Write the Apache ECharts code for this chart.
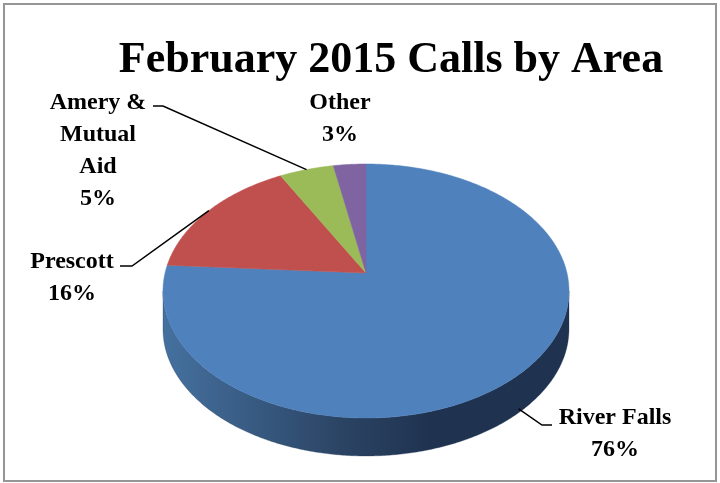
<!DOCTYPE html>
<html>
<head>
<meta charset="utf-8">
<script src="https://cdn.jsdelivr.net/npm/echarts@6/dist/echarts.min.js"></script>
<style>
  html, body { margin: 0; padding: 0; background: #fff; }
  #chart { width: 720px; height: 483px; }
</style>
</head>
<body>
<div id="chart"></div>
<script>
var categories = ['River Falls', 'Prescott', 'Amery &\nMutual\nAid', 'Other'];
var shares = [76, 16, 5, 3];

var sliceColors = ['#4f81bd', '#c0504d', '#9bbb59', '#8064a2'];
var sideColors = [
  ['#45719f', '#2a4262', '#1f3350'],
  ['#a8413e', '#7a2f2d', '#5c2423'],
  ['#86a24a', '#63783a', '#4a5c2a'],
  ['#6c5390', '#503e6b', '#3b2d52']
];

// label anchor (centre of first text line) and leader elbow, in px
var labelLayout = [
  { x: 615, y: 418, elbow: [542, 425], tail: 552, drop: 0.9 },
  { x: 72, y: 262, elbow: [132, 266], tail: 120, drop: 0 },
  { x: 98, y: 103, elbow: [163, 106], tail: 153, drop: 0 },
  { x: 340, y: 103 }
];

// tilted pie: top ellipse, apex (seen centre) and wall depth
var pie = { cx: 366, cy: 291, rx: 203, ry: 127, apexY: 273, depth: 38 };

var total = shares.reduce(function (a, b) { return a + b; }, 0);
var starts = [];
var acc = 0;
shares.forEach(function (v) { starts.push(acc); acc += v; });

// angle clockwise from 12 o'clock -> ellipse parameter of the rim point
function rimParam(deg) {
  var t = deg * Math.PI / 180;
  var dx = Math.sin(t) * pie.rx, dy = -Math.cos(t) * pie.ry;
  var oy = pie.apexY - pie.cy;
  var rx2 = pie.rx * pie.rx, ry2 = pie.ry * pie.ry;
  var a = dx * dx / rx2 + dy * dy / ry2;
  var b = 2 * oy * dy / ry2;
  var c = oy * oy / ry2 - 1;
  var s = (-b + Math.sqrt(b * b - 4 * a * c)) / (2 * a);
  return Math.atan2((oy + dy * s) / pie.ry, (dx * s) / pie.rx);
}

function rimPoint(phi, drop) {
  return [pie.cx + pie.rx * Math.cos(phi), pie.cy + pie.ry * Math.sin(phi) + (drop || 0)];
}

function arcPoints(p0, p1, drop) {
  var pts = [];
  var n = Math.max(2, Math.ceil((p1 - p0) / 0.01));
  for (var k = 0; k <= n; k++) pts.push(rimPoint(p0 + (p1 - p0) * k / n, drop));
  return pts;
}

function renderSlice(params, api) {
  var i = params.dataIndex;
  var v = api.value(0);
  var a0 = starts[i] / total * 360;
  var a1 = (starts[i] + v) / total * 360;
  var p0 = rimParam(a0);
  var p1 = rimParam(a1);
  while (p1 <= p0) p1 += Math.PI * 2;

  var children = [];

  // front wall: parts of the rim in the lower half of the ellipse
  var ranges = [[-2 * Math.PI, -Math.PI], [0, Math.PI], [2 * Math.PI, 3 * Math.PI]];
  ranges.forEach(function (r) {
    var s = Math.max(p0, r[0]), e = Math.min(p1, r[1]);
    if (e - s > 0.001) {
      var top = arcPoints(s, e, 0);
      var bottom = arcPoints(s, e, pie.depth).reverse();
      var sc = sideColors[i];
      children.push({
        type: 'polygon',
        shape: { points: top.concat(bottom) },
        style: {
          fill: {
            type: 'linear', global: true,
            x: pie.cx - pie.rx, y: 0, x2: pie.cx + pie.rx, y2: 0,
            colorStops: [
              { offset: 0, color: sc[0] },
              { offset: 0.46, color: sc[1] },
              { offset: 0.66, color: sc[2] },
              { offset: 1, color: sc[2] }
            ]
          },
          stroke: sc[2], lineWidth: 0.3
        }
      });
    }
  });

  // top face
  var face = [[pie.cx, pie.apexY]].concat(arcPoints(p0, p1, 0));
  children.push({
    type: 'polygon',
    shape: { points: face },
    style: { fill: sliceColors[i], stroke: sliceColors[i], lineWidth: 0.5 }
  });

  var lay = labelLayout[i];
  if (lay.elbow) {
    var pm = rimParam((a0 + a1) / 2);
    while (pm < p0) pm += Math.PI * 2;
    var start = rimPoint(pm, lay.drop * pie.depth);
    children.push({
      type: 'polyline',
      shape: { points: [start, lay.elbow, [lay.tail, lay.elbow[1]]] },
      style: { stroke: '#000', lineWidth: 1.5, fill: null }
    });
  }

  children.push({
    type: 'text',
    style: {
      text: categories[i] + '\n' + Math.round(v / total * 100) + '%',
      x: lay.x, y: lay.y - 16,
      align: 'center', verticalAlign: 'top',
      lineHeight: 32,
      font: 'bold 24px "Liberation Serif", serif',
      fill: '#000'
    }
  });

  return { type: 'group', children: children };
}

var chart = echarts.init(document.getElementById('chart'));
chart.setOption({
  animation: false,
  backgroundColor: '#fff',
  title: {
    text: 'February 2015 Calls by Area',
    left: 386,
    top: 34,
    textAlign: 'center',
    textStyle: {
      fontFamily: '"Liberation Serif", serif',
      fontWeight: 'bold',
      fontSize: 44,
      color: '#000'
    }
  },
  graphic: [{
    type: 'rect',
    shape: { x: 4, y: 4, width: 712, height: 477 },
    style: { fill: null, stroke: '#969696', lineWidth: 2 },
    silent: true
  }],
  series: [{
    type: 'custom',
    coordinateSystem: 'none',
    silent: true,
    data: shares,
    renderItem: renderSlice
  }]
});
</script>
</body>
</html>
